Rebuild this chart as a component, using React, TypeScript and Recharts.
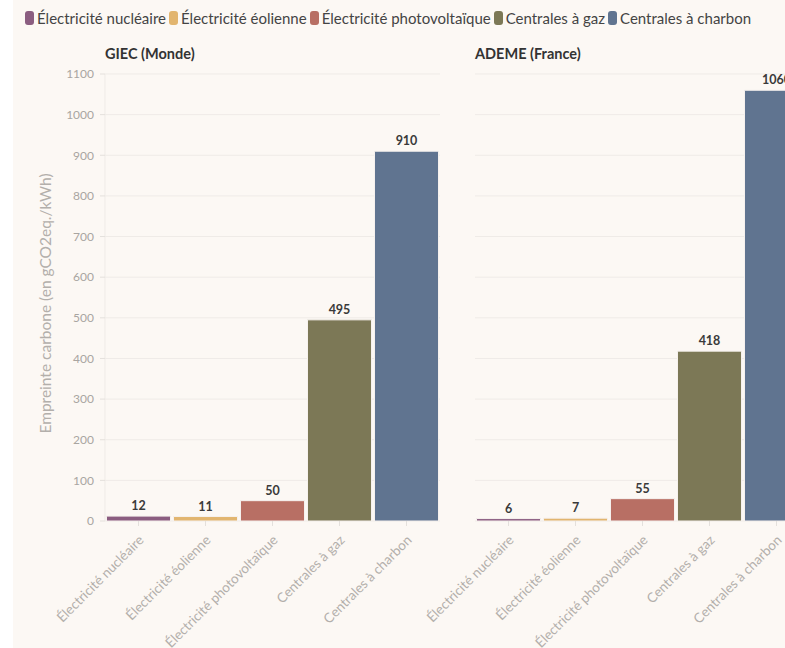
import React from 'react';
import { BarChart, Bar, XAxis, YAxis, CartesianGrid, Cell, LabelList } from 'recharts';

const categories = [
  'Électricité nucléaire',
  'Électricité éolienne',
  'Électricité photovoltaïque',
  'Centrales à gaz',
  'Centrales à charbon',
];
const colors = ['#8b5d80', '#e2b56f', '#b86f64', '#7c7856', '#607490'];
const giecValues = [12, 11, 50, 495, 910];
const ademeValues = [6, 7, 55, 418, 1060];
const yTicks = [0, 100, 200, 300, 400, 500, 600, 700, 800, 900, 1000, 1100];

const giecData = categories.map((name, i) => ({ name, value: giecValues[i] }));
const ademeData = categories.map((name, i) => ({ name, value: ademeValues[i] }));

const FONT = 'Lato, "Open Sans", sans-serif';
const BG = '#fcf8f4';
const GRID = '#efebe7';

const RotatedTick = (props: any) => {
  const { x, y, payload } = props;
  const px = x + 6;
  const py = y + 13;
  return (
    <text
      x={px}
      y={py}
      transform={`rotate(-45 ${px} ${py})`}
      textAnchor="end"
      fill="#b3afab"
      fontSize={13.5}
      fontFamily={FONT}
    >
      {payload.value}
    </text>
  );
};

const Panel = ({ data, showY }: { data: any[]; showY: boolean }) => (
  <BarChart
    width={showY ? 450 : 460}
    height={648}
    data={data}
    margin={{ top: 74, right: 10, bottom: 0, left: showY ? 45 : 115 }}
    barCategoryGap={1.5}
  >
    <CartesianGrid vertical={false} stroke={GRID} />
    <XAxis
      dataKey="name"
      interval={0}
      height={127}
      tick={<RotatedTick />}
      tickLine={{ stroke: '#e4e0dc' }}
      axisLine={false}
      tickSize={5}
    />
    <YAxis
      hide={!showY}
      width={60}
      domain={[0, 1100]}
      ticks={yTicks}
      interval={0}
      axisLine={{ stroke: GRID }}
      tickLine={{ stroke: '#e4e0dc' }}
      tickSize={5}
      tickMargin={6}
      tick={{ fill: '#a9a5a1', fontSize: 12, fontFamily: FONT }}
      label={{
        value: 'Empreinte carbone (en gCO2eq./kWh)',
        angle: -90,
        position: 'insideLeft',
        offset: 0,
        dy: 6,
        style: { textAnchor: 'middle', fill: '#b3afab', fontSize: 15.5, fontFamily: FONT },
      }}
    />
    <Bar dataKey="value" isAnimationActive={false} stroke="#f6f1ee" strokeWidth={1}>
      {data.map((d, i) => (
        <Cell key={d.name} fill={colors[i]} />
      ))}
      <LabelList
        dataKey="value"
        position="top"
        offset={6}
        fill="#3a3a3a"
        fontSize={12.5}
        fontWeight="bold"
        fontFamily={FONT}
      />
    </Bar>
  </BarChart>
);

export default function App() {
  return (
    <div
      style={{
        position: 'absolute',
        left: 0,
        top: 0,
        width: 785,
        height: 648,
        overflow: 'hidden',
        background: '#ffffff',
        fontFamily: FONT,
      }}
    >
      <div style={{ position: 'absolute', left: 13, top: 0, width: 772, height: 648, background: BG }} />
      <div style={{ position: 'absolute', left: 0, top: 0 }}>
        <Panel data={giecData} showY={true} />
      </div>
      <div style={{ position: 'absolute', left: 360, top: 0 }}>
        <Panel data={ademeData} showY={false} />
      </div>
      <div
        style={{
          position: 'absolute',
          left: 25,
          top: 9,
          display: 'flex',
          alignItems: 'center',
          fontSize: 15,
          color: '#444',
          whiteSpace: 'nowrap',
        }}
      >
        {categories.map((c, i) => (
          <span key={c} style={{ display: 'flex', alignItems: 'center', marginRight: 3 }}>
            <span
              style={{
                display: 'inline-block',
                width: 9,
                height: 14,
                borderRadius: 3,
                background: colors[i],
                marginRight: 3,
              }}
            />
            {c}
          </span>
        ))}
      </div>
      <div style={{ position: 'absolute', left: 105, top: 45, fontSize: 14.5, fontWeight: 'bold', color: '#333' }}>
        GIEC (Monde)
      </div>
      <div style={{ position: 'absolute', left: 475, top: 45, fontSize: 14.5, fontWeight: 'bold', color: '#333' }}>
        ADEME (France)
      </div>
    </div>
  );
}
